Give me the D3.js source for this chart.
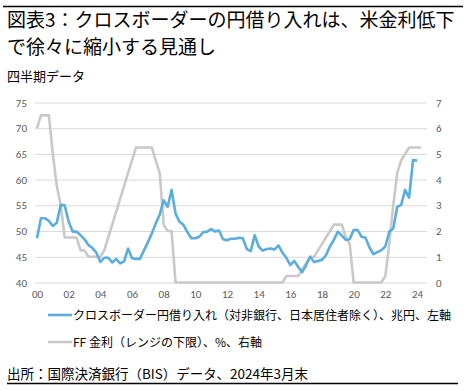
<!DOCTYPE html>
<html><head><meta charset="utf-8">
<script src="https://cdn.jsdelivr.net/npm/d3@7"></script>
<style>
body{margin:0;background:#fff;}
svg{display:block;font-family:"Noto Sans CJK JP","Noto Sans",sans-serif;}
</style></head>
<body><svg id="c" width="467" height="391"></svg>
<script>
// ---- data (quarterly, 2000Q1 ...) ----
const startYear = 2000;
const yenBorrowing = [
48.6,52.5,52.5,52.0, 51.0,51.6,55.1,55.0, 51.8,49.9,49.9,49.2, 48.4,47.3,46.7,45.8,
44.0,44.8,44.8,43.9, 44.6,43.7,44.1,46.6, 44.7,44.6,44.6,46.2, 47.8,49.5,51.5,53.2,
56.0,54.7,58.0,53.4, 51.8,51.2,49.8,48.6, 48.6,48.9,49.8,49.9, 50.4,49.9,50.1,48.4,
48.2,48.5,48.5,48.7, 48.6,46.5,46.1,49.2, 47.0,46.2,46.5,46.6, 46.4,47.2,45.8,44.8,
43.4,44.2,43.0,42.0, 43.4,45.0,44.0,44.2, 44.4,45.3,47.0,48.3, 49.9,49.1,48.3,48.4,
50.2,50.2,48.9,48.7, 46.8,45.5,45.9,46.3, 47.0,49.9,50.5,54.7, 55.1,58.0,56.5,63.8,
63.7];
const ffRate = [
6.0,6.5,6.5,6.5, 5.0,3.75,3.0,1.75, 1.75,1.75,1.75,1.25, 1.25,1.0,1.0,1.0,
1.0,1.25,1.75,2.25, 2.75,3.25,3.75,4.25, 4.75,5.25,5.25,5.25, 5.25,5.25,4.75,4.25,
2.25,2.0,2.0,0, 0,0,0,0, 0,0,0,0, 0,0,0,0,
0,0,0,0, 0,0,0,0, 0,0,0,0, 0,0,0,0.25,
0.25,0.25,0.25,0.5, 0.75,1.0,1.0,1.25, 1.5,1.75,2.0,2.25, 2.25,2.25,1.75,1.5,
0,0,0,0, 0,0,0,0, 0.25,1.5,3.0,4.25, 4.75,5.0,5.25,5.25,
5.25,5.25];
const xTickYears = [2000,2002,2004,2006,2008,2010,2012,2014,2016,2018,2020,2022,2024];
const leftTicks = [40,45,50,55,60,65,70,75];
const rightTicks = [0,1,2,3,4,5,6,7];
const titleLines = ["図表3：クロスボーダーの円借り入れは、米金利低下","で徐々に縮小する見通し"];
const subTitle = "四半期データ";
const legendLabels = ["クロスボーダー円借り入れ（対非銀行、日本居住者除く）、兆円、左軸","FF 金利（レンジの下限）、%、右軸"];
const source = "出所：国際決済銀行（BIS）データ、2024年3月末";
const colors = {yen:"#5aaddd", ff:"#c9c9c9"};

const svg = d3.select("#c");
const x = d3.scaleLinear().domain([2000,2024]).range([37,417]);
const yL = d3.scaleLinear().domain([40,75]).range([282.5,102.5]);
const yR = d3.scaleLinear().domain([0,7]).range([282.5,102.5]);
const tq = i => startYear + i/4;

// frame lines
svg.append("line").attr("x1",3).attr("x2",463).attr("y1",6.5).attr("y2",6.5).attr("stroke","#000").attr("stroke-width",1.3);
svg.append("line").attr("x1",7).attr("x2",458).attr("y1",383.5).attr("y2",383.5).attr("stroke","#000").attr("stroke-width",1.3);

// titles
titleLines.forEach((t,i)=>svg.append("text").attr("x",7).attr("y",27+i*26.5).attr("font-size",19).attr("fill","#000").text(t));
svg.append("text").attr("x",7).attr("y",81).attr("font-size",13).attr("fill","#000").text(subTitle);

// grid
const grid = svg.append("g").attr("transform","translate(35,0)")
  .call(d3.axisLeft(yL).tickValues(leftTicks).tickSize(-392).tickFormat(""));
grid.select(".domain").remove();
grid.selectAll("line").attr("stroke","#d9d9d9").attr("stroke-width",1);

const tickFont = "Carlito,Calibri,'Liberation Sans',sans-serif";
// left axis
const ax = svg.append("g").attr("transform","translate(27,0)")
  .call(d3.axisLeft(yL).tickValues(leftTicks).tickSize(0).tickPadding(0).tickFormat(d3.format("d")));
ax.select(".domain").remove();
ax.selectAll("text").attr("font-size",11).attr("fill","#595959").attr("font-family",tickFont);

// right axis
const ar = svg.append("g").attr("transform","translate(436,0)")
  .call(d3.axisRight(yR).tickValues(rightTicks).tickSize(0).tickPadding(0).tickFormat(d3.format("d")));
ar.select(".domain").remove();
ar.selectAll("text").attr("font-size",11).attr("fill","#595959").attr("font-family",tickFont);

// x axis
const axb = svg.append("g").attr("transform","translate(0,290)")
  .call(d3.axisBottom(x).tickValues(xTickYears).tickSize(0).tickPadding(0).tickFormat(d=>String(d%100).padStart(2,"0")));
axb.select(".domain").remove();
axb.selectAll("text").attr("font-size",11).attr("fill","#595959").attr("font-family",tickFont);

// lines
const ffLine = d3.line().x((d,i)=>x(tq(i))).y(d=>yR(d));
svg.append("path").datum(ffRate).attr("d",ffLine).attr("fill","none").attr("stroke",colors.ff).attr("stroke-width",2.6).attr("stroke-linejoin","round");
const yenLine = d3.line().x((d,i)=>x(tq(i))).y(d=>yL(d));
svg.append("path").datum(yenBorrowing).attr("d",yenLine).attr("fill","none").attr("stroke",colors.yen).attr("stroke-width",2.6).attr("stroke-linejoin","round");

// legend
const leg = [{c:colors.yen,t:legendLabels[0],y:315},{c:colors.ff,t:legendLabels[1],y:342}];
leg.forEach(l=>{
  svg.append("line").attr("x1",48).attr("x2",72).attr("y1",l.y).attr("y2",l.y).attr("stroke",l.c).attr("stroke-width",2.6);
  svg.append("text").attr("x",73).attr("y",l.y+4.5).attr("font-size",12).attr("fill","#000").text(l.t);
});

// source
svg.append("text").attr("x",7).attr("y",379).attr("font-size",13.5).attr("fill","#000").text(source);
</script></body></html>
